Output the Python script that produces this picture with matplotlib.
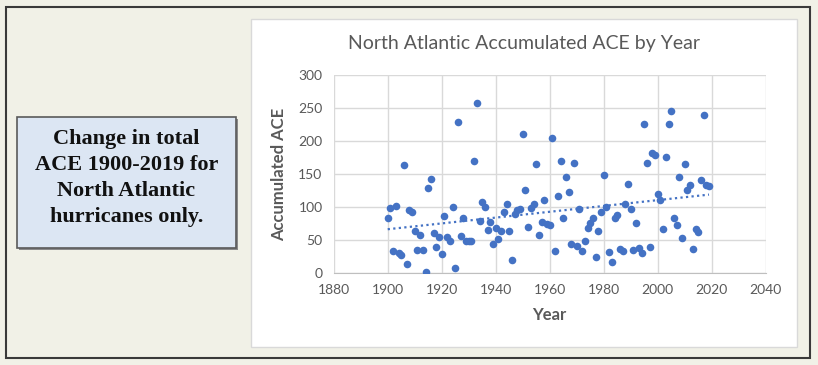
import numpy as np
import matplotlib
matplotlib.use("Agg")
import matplotlib.pyplot as plt
from matplotlib.patches import Rectangle

years = list(range(1900, 2020))
ace = [83, 99, 33, 102, 30, 28, 163, 13, 96, 93,
       64, 35, 57, 35, 2, 129, 143, 60, 39, 54,
       29, 87, 54, 49, 100, 7, 229, 56, 83, 49,
       48, 48, 169, 258, 79, 107, 100, 65, 78, 44,
       68, 51, 64, 93, 104, 63, 20, 89, 95, 97,
       211, 126, 69, 99, 104, 165, 57, 78, 110, 75,
       72, 205, 34, 117, 169, 84, 145, 122, 44, 166,
       41, 97, 34, 48, 68, 76, 84, 25, 64, 93,
       149, 100, 32, 17, 84, 88, 36, 34, 104, 135,
       97, 35, 76, 38, 31, 226, 166, 40, 182, 179,
       120, 110, 66, 176, 226, 245, 84, 73, 146, 53,
       165, 126, 133, 36, 66, 62, 141, 240, 133, 132]
x_ticks = [1880, 1900, 1920, 1940, 1960, 1980, 2000, 2020, 2040]
y_ticks = [0, 50, 100, 150, 200, 250, 300]
title = "North Atlantic Accumulated ACE by Year"
note = "Change in total\nACE 1900-2019 for\nNorth Atlantic\nhurricanes only."

W, H = 818, 365
fig = plt.figure(figsize=(W / 100, H / 100), dpi=100)
fig.patch.set_facecolor("#F1F1E7")

def fx(px):
    return px / W

def fy(py):
    return 1 - py / H

# outer border
fig.patches.append(Rectangle((fx(6), fy(358)), fx(810) - fx(6), fy(7) - fy(358),
                             transform=fig.transFigure, facecolor="none",
                             edgecolor="#3a3a3a", linewidth=1.5, zorder=-3))
# white chart area
fig.patches.append(Rectangle((fx(251), fy(347)), fx(797) - fx(251), fy(19) - fy(347),
                             transform=fig.transFigure, facecolor="white",
                             edgecolor="#d9d9d9", linewidth=1.0, zorder=-3))
# note box shadow + box
fig.patches.append(Rectangle((fx(19), fy(250)), fx(238) - fx(19), fy(119) - fy(250),
                             transform=fig.transFigure, facecolor="#8a8a8a",
                             edgecolor="none", zorder=-3))
fig.patches.append(Rectangle((fx(17), fy(248)), fx(236) - fx(17), fy(117) - fy(248),
                             transform=fig.transFigure, facecolor="#DCE6F3",
                             edgecolor="#5a5a5a", linewidth=1.2, zorder=-2))
fig.text(fx(126.5), fy(178), note, ha="center", va="center", fontsize=16,
         fontweight="bold", family="Liberation Serif", color="#111111",
         linespacing=1.42)

ax = fig.add_axes([fx(333.7), fy(273), fx(765.7) - fx(333.7), fy(75) - fy(273)])
ax.set_facecolor("white")
ax.scatter(years, ace, s=30, color="#4472C4", zorder=3, linewidths=0)

coef = np.polyfit(years, ace, 1)
xs = np.array([years[0], years[-1]])
ax.plot(xs, np.polyval(coef, xs), linestyle=(0, (1, 1.5)), color="#4472C4",
        linewidth=1.6, zorder=2)

ax.set_xlim(1880, 2040)
ax.set_ylim(0, 300)
ax.set_xticks(x_ticks)
ax.set_yticks(y_ticks)
ax.grid(True, color="#d9d9d9", linewidth=1.0, zorder=0)
ax.set_axisbelow(True)
for s in ["top", "right", "left"]:
    ax.spines[s].set_visible(False)
ax.spines["bottom"].set_color("#bfbfbf")
ax.tick_params(length=0, labelsize=10, labelcolor="#595959", pad=8)
for lab in ax.get_xticklabels() + ax.get_yticklabels():
    lab.set_family("Lato")
ax.set_xlabel("Year", fontsize=12, color="#595959", family="Lato",
              fontweight="bold", labelpad=8)
ax.set_ylabel("Accumulated ACE", fontsize=12, color="#595959", family="Lato",
              fontweight="bold", labelpad=8)
fig.text(fx(524), fy(43), title, ha="center", va="center", fontsize=14,
         color="#595959", family="Lato")

fig.savefig("out.png", dpi=100, facecolor=fig.get_facecolor())
